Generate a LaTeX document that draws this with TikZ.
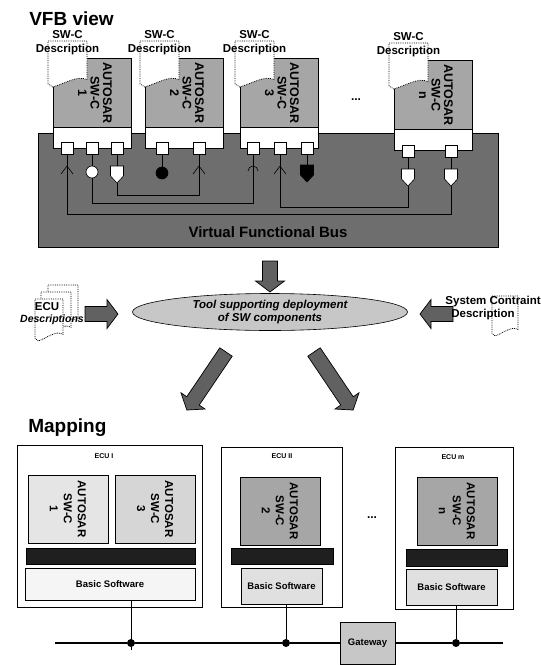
\documentclass[tikz,border=0pt]{standalone}
\usepackage{fontspec}
\setmainfont{Liberation Sans}
\usetikzlibrary{shapes.geometric,calc,positioning}
\tikzset{
  vfb/.style={draw, fill=black!57},
  swcbody/.style={draw, fill=black!35},
  swcstrip/.style={draw, fill=white},
  port/.style={draw, fill=white, inner sep=0, minimum size=12pt},
  srvport/.style={draw, circle, fill=white, inner sep=0, minimum size=12pt},
  wire/.style={line width=0.6pt},
  docpage/.style={draw, densely dotted, fill=white, line width=0.8pt},
  fatshaft/.style={draw, fill=black!62, line width=0.7pt},
  swctext/.style={rotate=-90, align=center, inner sep=0,
    font=\bfseries\fontsize{12.5}{12.5}\selectfont},
  maptext/.style={rotate=-90, align=center, inner sep=0,
    font=\bfseries\fontsize{11.5}{14}\selectfont},
  doclabel/.style={inner sep=0, font=\bfseries\fontsize{11.5}{12}\selectfont},
  title/.style={anchor=base west, inner sep=0, font=\bfseries\fontsize{19}{19}\selectfont},
  ecubox/.style={draw, fill=white, line width=0.7pt},
  ecutitle/.style={inner sep=0, font=\bfseries\fontsize{7}{8}\selectfont},
  mapswc/.style={draw, line width=0.7pt},
  darkbar/.style={draw, fill=black!88},
  bswbox/.style={draw, fill=black!12, inner sep=0, font=\bfseries\fontsize{9.5}{10}\selectfont},
  gateway/.style={draw, fill=black!22, inner sep=0, minimum width=55pt, minimum height=42pt,
    font=\bfseries\fontsize{9.5}{10}\selectfont},
  junction/.style={circle, fill=black, inner sep=0, minimum size=8pt},
  rport/.pic={
    \draw[wire] (-6,8) -- (0,0) -- (6,8);
    \coordinate (-top) at (0,0);
  },
  cport/.pic={
    \draw[wire] (-5,5) arc[start angle=180, end angle=360, radius=5];
    \coordinate (-top) at (0,0);
  },
  sport/.pic={
    \path[draw, wire, pic actions] (-6.5,0) -- (6.5,0) -- (6.5,10) -- (0,17) -- (-6.5,10) -- cycle;
    \coordinate (-top) at (0,0);
    \coordinate (-bot) at (0,17);
  }
}
% page with a wavy lower edge: x, y, width, height
\newcommand\docsheet[4]{%
  \draw[docpage] (#1,#2) -- ({#1+#3},#2) -- ({#1+#3},{#2+0.84*#4})
    .. controls ({#1+0.75*#3},{#2+0.74*#4}) and ({#1+0.45*#3},{#2+0.92*#4}) .. ({#1+0.12*#3},{#2+#4})
    -- (#1,{#2+0.93*#4}) -- cycle;}
% block arrow: x, y, angle, length
\newcommand\fatarrow[4]{%
  \begin{scope}[shift={(#1,#2)}, rotate=#3]
    \draw[fatshaft] (0,-7.5) -- ({#4-11},-7.5) -- ({#4-11},-14.5) -- (#4,0)
      -- ({#4-11},14.5) -- ({#4-11},7.5) -- (0,7.5) -- cycle;
  \end{scope}}

\begin{document}
\begin{tikzpicture}[x=1pt, y=-1pt, line width=0.6pt, font=\bfseries]
  \useasboundingbox (0,0) rectangle (541,665);

  % VFB view
  \node[title] at (29,25) {VFB view};
  \draw[vfb] (38,133) rectangle (498,247);
  \node[inner sep=0, font=\bfseries\fontsize{15}{15}\selectfont] (bus) at (268,232) {Virtual Functional Bus};

  \foreach \x/\t/\nm in {53/58/1, 145/58/2, 240/58/3, 394/60/n} {
    \draw[swcbody] (\x,\t) rectangle ++(78,69);
    \draw[swcstrip] (\x,\t+69) rectangle ++(78,21);
    \docsheet{\x-5}{\t-17}{39}{46}
    \node[doclabel] at (\x+14.5,\t-23) {SW-C};
    \node[doclabel] at (\x+14.5,\t-8) {Description};
    \node[swctext] at (\x+42,\t+35) {AUTOSAR\\SW-C\\\nm};
  }
  \node[font=\bfseries\fontsize{12}{12}\selectfont] (dots1) at (356,100) {...};

  % ports
  \foreach \nm/\x in {1a/67, 1b/92, 1c/117, 2a/162, 2b/199, 3a/253, 3b/280, 3c/307}
    \node[port] (p\nm) at (\x,148) {};
  \node[port] (pna) at (408,151) {};
  \node[port] (pnb) at (451,151) {};

  \pic (s1a) at (67,166) {rport};
  \node[srvport] (s1b) at (92,172) {};
  \pic[fill=white] (s1c) at (117,166) {sport};
  \node[srvport, fill=black] (s2a) at (162,173) {};
  \pic (s2b) at (199,166) {rport};
  \pic (s3a) at (253,166) {cport};
  \pic (s3b) at (280,166) {rport};
  \pic[fill=black] (s3c) at (307,165) {sport};
  \pic[fill=white] (sna) at (408,169) {sport};
  \pic[fill=white] (snb) at (451,169) {sport};

  \foreach \nm in {1a,1c,2b,3a,3b,3c,na,nb}
    \draw[wire] (p\nm.south) -- (s\nm-top);
  \draw[wire] (p1b.south) -- (s1b.north);
  \draw[wire] (p2a.south) -- (s2a.north);

  \draw[wire] (s1a-top) -- ++(0,48) -| (snb-bot);
  \draw[wire] (s1b.south) -- ++(0,25) -| (s3a-top);
  \draw[wire] (s1c-bot) -- ++(0,12) -| (s2b-top);
  \draw[wire] (s3b-top) -- ++(0,41) -| (sna-bot);

  % deployment tool
  \fatarrow{270}{261}{-90}{31}
  \node[ellipse, draw, fill=black!22, minimum width=275pt, minimum height=37pt, inner sep=0,
    align=center, font=\bfseries\itshape\fontsize{11.5}{13}\selectfont] (tool) at (270,312)
    {Tool supporting deployment\\of SW components};

  \docsheet{48}{285}{30}{42}
  \docsheet{41}{292}{30}{42}
  \docsheet{35}{299}{28}{42}
  \node[doclabel] (ecu) at (47,307) {ECU};
  \node[doclabel, font=\bfseries\itshape\fontsize{10.5}{12}\selectfont] (ecudesc) at (52,320) {Descriptions};
  \fatarrow{85}{314}{0}{33}

  \docsheet{492}{296}{26}{40}
  \fatarrow{453}{314}{180}{33}
  \node[doclabel, anchor=east] (sys) at (541,302) {System Contraint};
  \node[doclabel] (sysdesc) at (483,315) {Description};

  \fatarrow{226}{352}{-124}{70}
  \fatarrow{314}{352}{-56}{70}

  % mapping
  \node[title] at (28,432) {Mapping};
  \draw[ecubox] (17,445) rectangle (202,607);
  \draw[ecubox] (221,447) rectangle (342,607);
  \draw[ecubox] (395,447) rectangle (513,609);
  \node[ecutitle] at (104,456) {ECU I};
  \node[ecutitle] at (282,456) {ECU II};
  \node[ecutitle] at (453,457) {ECU m};

  \foreach \x/\y/\fc/\nm in {28/475/black!10/1, 115/475/black!16/3, 240/477/black!35/2, 417/477/black!35/n} {
    \draw[mapswc, fill=\fc] (\x,\y) rectangle ++(80,68);
    \node[maptext] at (\x+40,\y+34) {AUTOSAR\\SW-C\\\nm};
  }
  \node[font=\bfseries\fontsize{12}{12}\selectfont] (dots2) at (372,518) {...};

  \draw[darkbar] (26,548) rectangle (195,564);
  \draw[darkbar] (231,548) rectangle (333,564);
  \draw[darkbar] (406,549) rectangle (507,566);

  \node[bswbox, fill=black!4, minimum width=170pt, minimum height=32pt] (bas1) at (110,584) {Basic Software};
  \node[bswbox, minimum width=81pt, minimum height=36pt] (bas2) at (281.5,586) {Basic Software};
  \node[bswbox, minimum width=91pt, minimum height=36pt] (basm) at (451.5,587) {Basic Software};

  % network
  \coordinate (busL) at (55,643);
  \coordinate (busR) at (503,643);
  \node[gateway] (gw) at (367.5,643) {Gateway};
  \node[junction] (j1) at (131,643) {};
  \node[junction] (j2) at (286,643) {};
  \node[junction] (j3) at (456,643) {};
  \draw[line width=1.2pt] (busL) -- (j1) -- (j2) -- (gw) -- (j3) -- (busR);
  \draw[wire] (j1 |- bas1.south) -- ($(j1)+(0,7)$);
  \draw[wire] (j2 |- bas2.south) -- (j2);
  \draw[wire] (j3 |- basm.south) -- (j3);
\end{tikzpicture}
\end{document}
